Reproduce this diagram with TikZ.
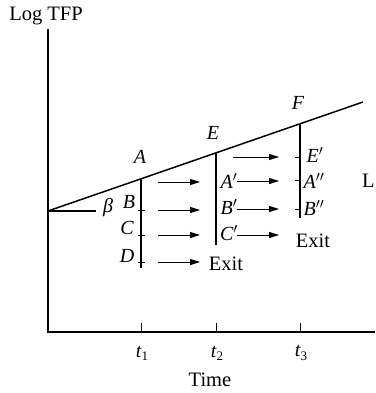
\documentclass[tikz,border=0pt]{standalone}
\usepackage{fontspec}
\setmainfont{Liberation Serif}
\usetikzlibrary{arrows.meta}
\begin{document}
\begin{tikzpicture}[x=1pt,y=-1pt,
  axis/.style={line width=1.4pt},
  frontier/.style={line width=1.5pt},
  vline/.style={line width=1.2pt},
  tickmark/.style={line width=1pt},
  flow/.style={line width=1pt,-{Triangle[length=10pt,width=6pt]}},
  lab/.style={font=\fontsize{20}{20}\selectfont\itshape, inner sep=0pt},
  txt/.style={font=\fontsize{20.5}{20.5}\selectfont, inner sep=0pt}]
\useasboundingbox (0,0) rectangle (375,393);

% axes
\coordinate (ytop) at (48,29);
\coordinate (orig) at (48,332);
\coordinate (xend) at (375,332);
\draw[axis] (ytop) -- (orig) -- (xend);

% time ticks
\coordinate (t1b) at (141,332); \coordinate (t1t) at (141,323);
\coordinate (t2b) at (216,332); \coordinate (t2t) at (216,323);
\coordinate (t3b) at (300,332); \coordinate (t3t) at (300,323);
\draw[tickmark] (t1b) -- (t1t);
\draw[tickmark] (t2b) -- (t2t);
\draw[tickmark] (t3b) -- (t3t);

% frontier
\coordinate (f0) at (48,211);
\coordinate (f1) at (363,102);
\draw[frontier] (f0) -- (f1);
\coordinate (beta) at (96,211);
\draw[frontier] (f0) -- (beta);

% points on frontier
\coordinate (pA) at (141,178.8);
\coordinate (pE) at (216,153);
\coordinate (pF) at (300,123.8);
\coordinate (pAb) at (141,268);
\coordinate (pEb) at (216,245);
\coordinate (pFb) at (300,218);
\draw[vline] (pA) -- (pAb);
\draw[vline] (pE) -- (pEb);
\draw[vline] (pF) -- (pFb);

% ticks on t1 line
\foreach \y [count=\i] in {210,235,262}{
  \coordinate (ka\i) at (137.5,\y); \coordinate (kb\i) at (144.5,\y);
  \draw[tickmark] (ka\i) -- (kb\i);
}
% ticks on t3 line
\foreach \y [count=\i] in {157,180,209}{
  \coordinate (kc\i) at (295,\y); \coordinate (kd\i) at (300,\y);
  \draw[tickmark] (kc\i) -- (kd\i);
}

% labels
\node[lab] (lA) at (140,157) {A};
\node[lab] (lE) at (213,133) {E};
\node[lab] (lF) at (298,103) {F};
\node[lab] (lbeta) at (108,208) {β};
\node[lab] (lB) at (129,202) {B};
\node[lab] (lC) at (127,228) {C};
\node[lab] (lD) at (127,256) {D};
\node[lab] (lA1) at (229,181) {A$'$};
\node[lab] (lB1) at (229,207) {B$'$};
\node[lab] (lC1) at (229,233) {C$'$};
\node[lab] (lE1) at (315,155) {E$'$};
\node[lab] (lA2) at (314,181) {A$''$};
\node[lab] (lB2) at (314,208) {B$''$};

\node[txt] (exit1) at (226,264) {Exit};
\node[txt] (exit2) at (313,241) {Exit};
\node[txt, anchor=west] (lL) at (362,181) {L};

\node[txt, anchor=base] (ylab) at (46,21) {Log TFP};
\node[txt] (xlab) at (210,380) {Time};
\node[lab] (lt1) at (142,353) {t\raisebox{-0.35ex}{\fontsize{13}{13}\selectfont\upshape 1}};
\node[lab] (lt2) at (217,353) {t\raisebox{-0.35ex}{\fontsize{13}{13}\selectfont\upshape 2}};
\node[lab] (lt3) at (301,353) {t\raisebox{-0.35ex}{\fontsize{13}{13}\selectfont\upshape 3}};

% arrows from t1
\foreach \y [count=\i] in {182,210,235,262}{
  \coordinate (as\i) at (158,\y); \coordinate (ae\i) at (200,\y);
  \draw[flow] (as\i) -- (ae\i);
}
% arrows from t2
\coordinate (bs1) at (233,157); \coordinate (be1) at (279,157);
\draw[flow] (bs1) -- (be1);
\foreach \y [count=\i from 2] in {181,209,235}{
  \coordinate (bs\i) at (237,\y); \coordinate (be\i) at (279,\y);
  \draw[flow] (bs\i) -- (be\i);
}
\end{tikzpicture}
\end{document}
